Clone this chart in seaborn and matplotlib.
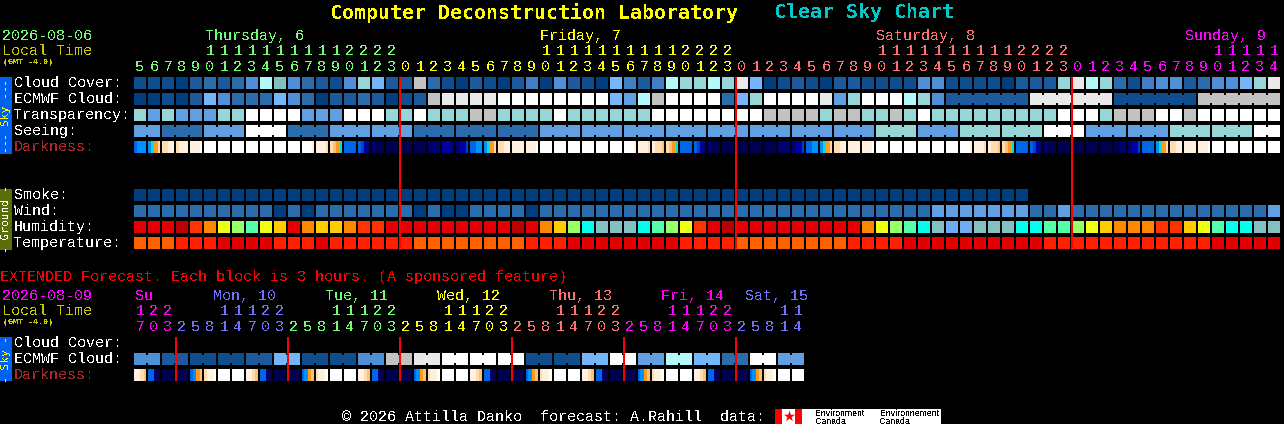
import matplotlib
matplotlib.use("Agg")
import matplotlib.pyplot as plt
from matplotlib.colors import ListedColormap
import numpy as np
import seaborn as sns

W, H = 1284, 424

# ---------- data ----------
cloud_main = "111023235a 8532159722 b310210240 52107424a9 9a9c701210 2211115511 1102229ca9 3145523557 9c"
ecmwf_main = "0010275333 7530223201 2bccccdddd dddd76abdd dd379ddddc 69ddda9522 2222cccccc 111111bbbb bb"
transp_main = "96966699dd dd666ddd99 d999bb9999 d999999ddd dddddbbbb9 bb99b9d999 999999ddd9 bbbddbdddd dd"
seeing_main = "66333666dd d333666666 3333333336 6666666666 6666666666 6669996669 99999ddd66 6666999999 dd"
smoke_main = "0000000000 0000000000 0000000000 0000000000 0000000000 0000000000 0000"
wind_main = "3333333333 0303333333 0300333303 3333333333 3333333333 3333333666 6666336333 3333333333 36"
humid_main = "BBBACDFGHF EBDEEDCCBB BBBBBBBABD EGIJJJIHGF CBABBBBBBB BBDFGHIJKK JJJIIHHGFE DDDCCEFHII JJ"
temp_main = "OOORRRDDDD RRRDRRRRRR OOOOOOOORR RDDDDDDDDR RRROOOOOOO ORRRRDDDDD DDDDDRRRRR RRRRRRRDDD DD"
dark_main = [
    "4555", "5679", "99aa", "9aaa", "aaab", "bbbb", "bbbb", "bbbb", "bbbb", "bbbb",
    "bbbb", "bbbb", "bbba", "aaa9", "9876", "4444", "4321", "1000", "0000", "0000",
    "0000", "1111", "2221", "1223", "4455", "5679", "99aa", "aaaa", "aaab", "bbbb",
    "bbbb", "bbbb", "bbbb", "bbbb", "bbbb", "bbba", "aaa9", "a998", "9876", "4444",
    "4321", "1000", "0000", "0000", "0000", "0000", "1111", "1223", "4455", "5679",
    "99aa", "aaaa", "aaab", "bbbb", "bbbb", "bbbb", "bbbb", "bbbb", "bbbb", "bbba",
    "aaa9", "a998", "9876", "4444", "4321", "1000", "0000", "0000", "0000", "0000",
    "0011", "1223", "4444", "5679", "99aa", "aaaa", "aaab", "bbbb", "bbbb", "bbbb",
    "bbbb", "bbbb",
]
hours_main = [5, 6, 7, 8, 9, 10, 11, 12, 13, 14, 15, 16, 17, 18, 19, 20, 21, 22, 23,
              0, 1, 2, 3, 4, 5, 6, 7, 8, 9, 10, 11, 12, 13, 14, 15, 16, 17, 18, 19, 20, 21, 22, 23,
              0, 1, 2, 3, 4, 5, 6, 7, 8, 9, 10, 11, 12, 13, 14, 15, 16, 17, 18, 19, 20, 21, 22, 23,
              0, 1, 2, 3, 4, 5, 6, 7, 8, 9, 10, 11, 12, 13, 14]
days_main = [("Thursday, 6", 205), ("Friday, 7", 540), ("Saturday, 8", 876), ("Sunday, 9", 1185)]

ecmwf_ext = "55 22 11 11 22 77 11 11 55 bb cc dd dd dd 11 11 77 dd 66 aa 77 33 dd 66"
dark_ext = [
    "aa98", "4410", "0000", "0000", "4578", "9aab", "bbbb", "bbbb",
    "aa98", "4410", "0000", "0000", "4578", "9aab", "bbbb", "bbbb",
    "aa98", "4410", "0000", "0000", "4578", "9aab", "bbbb", "bbbb",
    "aa98", "4410", "0000", "0000", "4578", "9aab", "bbbb", "bbbb",
    "aa98", "4410", "0000", "0000", "4578", "9aab", "bbbb", "bbbb",
    "aa98", "4410", "0000", "0000", "4578", "9aab", "bbbb", "bbbb",
]
hours_ext = [17, 20, 23,
             2, 5, 8, 11, 14, 17, 20, 23, 2, 5, 8, 11, 14, 17, 20, 23,
             2, 5, 8, 11, 14, 17, 20, 23, 2, 5, 8, 11, 14, 17, 20, 23,
             2, 5, 8, 11, 14, 17, 20, 23, 2, 5, 8, 11, 14]
days_ext = [("Su", 135), ("Mon, 10", 213), ("Tue, 11", 325), ("Wed, 12", 437),
            ("Thu, 13", 549), ("Fri, 14", 661), ("Sat, 15", 745)]

# ---------- palettes ----------
sky_colors = {"0": "#003e7e", "1": "#0e4d8e", "2": "#1b5a9c", "3": "#2b6cad", "4": "#3f7fc3",
              "5": "#4f8fd5", "6": "#5f9fe2", "7": "#75b5f9", "8": "#84bfbf", "9": "#96d6d6",
              "a": "#b3f9f9", "b": "#c2c2c2", "c": "#e9e9e9", "d": "#ffffff"}
humid_colors = {"A": "#bb0000", "B": "#e40000", "C": "#ff3300", "D": "#ff8800", "E": "#ffcc00",
                "F": "#eeff11", "G": "#99ff66", "H": "#55ffaa", "I": "#00ffee", "J": "#84c0c0",
                "K": "#70aaf0"}
temp_colors = {"O": "#ff6000", "R": "#ff2000", "D": "#e00000"}
dark_colors = {"0": "#000050", "1": "#00006e", "2": "#0000a0", "3": "#0040c8", "4": "#0066e6",
               "5": "#0090ff", "6": "#00e0e0", "7": "#ff9a20", "8": "#ffbe70", "9": "#ffdcb0",
               "a": "#fff0e0", "b": "#ffffff"}
GREEN, YEL, SAL, MAG, BLU = "#72fc72", "#ffff00", "#ff7070", "#ff00ff", "#7070ff"
OLIVE_TXT = "#c8c800"

# ---------- helpers ----------
sns.set_style("dark")
plt.rcParams["font.family"] = ["Liberation Mono", "DejaVu Sans Mono"]
plt.rcParams["text.antialiased"] = False
fig = plt.figure(figsize=(W / 100, H / 100), dpi=100, facecolor="black")
PX = 0.72  # points per pixel


def new_ax(x, y, w, h):
    ax = fig.add_axes([x / W, 1 - (y + h) / H, w / W, h / H])
    ax.set_facecolor("black")
    return ax


def cell_row(codes, palette, y, n, joins=()):
    codes = codes.replace(" ", "")
    keys = list(palette)
    vals = np.array([[keys.index(c) for c in codes] + [np.nan] * (n - len(codes))])
    ax = new_ax(133, y - 1, n * 14, 14)
    sns.heatmap(vals, ax=ax, cmap=ListedColormap(list(palette.values())), vmin=-0.5,
                vmax=len(keys) - 0.5, cbar=False, xticklabels=False, yticklabels=False,
                linewidths=2 * PX, linecolor="black")
    for i in joins:
        ax.bar(i + 1, 8 / 14, width=2.4 / 14, bottom=3 / 14, color=palette[codes[i]],
               zorder=5, linewidth=0)
    ax.set_xlim(0, n)
    ax.set_ylim(1, 0)
    ax.axis("off")


def dark_row(cells, y):
    n = len(cells)
    keys = list(dark_colors)
    vals = np.array([[keys.index(c) for c in "".join(cells)]])
    ax = new_ax(133, y, n * 14, 12)
    sns.heatmap(vals, ax=ax, cmap=ListedColormap(list(dark_colors.values())), vmin=-0.5,
                vmax=len(keys) - 0.5, cbar=False, xticklabels=False, yticklabels=False)
    ax.vlines(np.arange(n + 1) * 4, 0, 1, color="black", lw=2 * PX, zorder=5)
    ax.axis("off")


# ---------- rows ----------
see_join = [i for i in range(81) if (i + 2) % 3]
ecm_join = [i for i in range(58, 81) if (i - 57) % 6]
cell_row(cloud_main, sky_colors, 77, 82)
cell_row(ecmwf_main, sky_colors, 93, 82, ecm_join)
cell_row(transp_main, sky_colors, 109, 82)
cell_row(seeing_main, sky_colors, 125, 82, see_join)
dark_row(dark_main, 141)
cell_row(smoke_main, sky_colors, 189, 82)
cell_row(wind_main, sky_colors, 205, 82)
cell_row(humid_main, humid_colors, 221, 82)
cell_row(temp_main, temp_colors, 237, 82)
cell_row(ecmwf_ext, sky_colors, 353, 48, [i for i in range(47) if i % 2 == 0])
dark_row(dark_ext, 369)

# ---------- overlay (pixel coordinates) ----------
ov = fig.add_axes([0, 0, 1, 1], facecolor="none", zorder=10)
ov.set_xlim(0, W)
ov.set_ylim(H, 0)
ov.axis("off")


def txt(x, y, s, c="white", size=10.8, **kw):
    kw.setdefault("ha", "left")
    ov.text(x, y + 2, s, color=c, fontsize=size, va="center", **kw)


txt(330, 11, "Computer Deconstruction Laboratory", YEL, 14.4, fontweight="bold",
    family="DejaVu Sans Mono")
txt(774, 11, "Clear Sky Chart", "#00c8c8", 14.4, fontweight="bold", family="DejaVu Sans Mono")


def header(y0, date, date_col, hours, days, cycle):
    txt(2, y0, date, date_col)
    txt(2, y0 + 15, "Local Time", OLIVE_TXT)
    txt(3, y0 + 27, "(GMT -4.0)", OLIVE_TXT, 6.0, fontweight="bold")
    k = 0
    prev = hours[0]
    for i, h in enumerate(hours):
        if h < prev:
            k += 1
        prev = h
        col = cycle[k]
        x = 140 + 14 * i
        if h >= 10:
            txt(x, y0 + 15, str(h // 10), col, ha="center")
        txt(x, y0 + 31, str(h % 10), col, ha="center")
    for (name, x), col in zip(days, cycle):
        txt(x, y0, name, col)


header(34, "2026-08-06", GREEN, hours_main, days_main, [GREEN, YEL, SAL, MAG])
header(294, "2026-08-09", MAG, hours_ext, days_ext, [MAG, BLU, GREEN, YEL, SAL, MAG, BLU])

for y, s in [(81, "Cloud Cover:"), (97, "ECMWF Cloud:"), (113, "Transparency:"), (129, "Seeing:")]:
    txt(14, y, s)
txt(14, 145, "Darkness:", "#a52a2a")
for y, s in [(193, "Smoke:"), (209, "Wind:"), (225, "Humidity:"), (241, "Temperature:")]:
    txt(14, y, s)
txt(14, 341, "Cloud Cover:")
txt(14, 357, "ECMWF Cloud:")
txt(14, 373, "Darkness:", "#a52a2a")
txt(0, 275, "EXTENDED Forecast. Each block is 3 hours. (A sponsored feature)", "#ff0000")
txt(342, 415, "\u00a9 2026 Attilla Danko  forecast: A.Rahill  data:")

# side bars
for y0, y1, col, s, tc in [(77, 154, "#0060f0", "--- Sky ---", YEL),
                           (189, 250, "#5a6e0a", "- Ground -", "white"),
                           (337, 381, "#0060f0", "- Sky -", YEL)]:
    ov.fill_between([0, 12], y0, y1, color=col, lw=0)
    ov.text(6, (y0 + y1) / 2, s, color=tc, fontsize=8.0, rotation=90, ha="center", va="center",
            family="DejaVu Sans Mono")

# midnight lines
ov.vlines([400, 736, 1072], 77, 250, color="#ff0000", lw=2 * PX)
ov.vlines([176, 288, 400, 512, 624, 736], 337, 381, color="#ff0000", lw=2 * PX)

# footer logos
ov.fill_between([775, 941], 409, 424, color="white", lw=0)
ov.fill_between([775, 782], 409, 424, color="#ff0000", lw=0)
ov.fill_between([795, 802], 409, 424, color="#ff0000", lw=0)
ov.scatter([788.5], [416], marker="*", s=70, color="#ff0000", lw=0)
for x, a in [(815, "Environment"), (880, "Environnement")]:
    ov.text(x, 413, a, color="black", fontsize=6.3, family="Liberation Sans", va="center")
    ov.text(x, 421, "Canada", color="black", fontsize=6.3, family="Liberation Sans", va="center")

fig.savefig("out.png", dpi=100, facecolor="black")
